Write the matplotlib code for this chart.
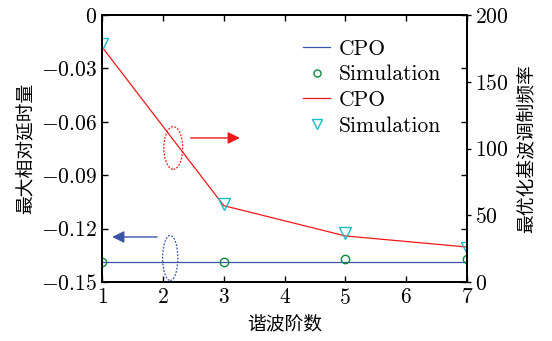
import numpy as np
import matplotlib.pyplot as plt
from matplotlib.patches import Ellipse

plt.rcParams['font.family'] = ['cmr10', 'Noto Sans CJK SC', 'DejaVu Sans']
plt.rcParams['mathtext.fontset'] = 'cm'
plt.rcParams['axes.unicode_minus'] = False

# data
harmonics = [1, 3, 5, 7]
delay_cpo = [-0.1388, -0.1388, -0.1388, -0.1388]
delay_sim = [-0.1388, -0.1385, -0.1372, -0.1372]
freq_cpo = [176, 57.2, 34.5, 26.2]
freq_sim = [178, 58.4, 36.7, 25.5]

x_ticks = [1, 2, 3, 4, 5, 6, 7]
left_ticks = [0, -0.03, -0.06, -0.09, -0.12, -0.15]
left_labels = ['$0$', '$-0.03$', '$-0.06$', '$-0.09$', '$-0.12$', '$-0.15$']
right_ticks = [0, 50, 100, 150, 200]
right_labels = ['$0$', '$50$', '$100$', '$150$', '$200$']

fig = plt.figure(figsize=(5.52, 3.41), dpi=100)
ax = fig.add_axes([0.185, 0.173, 0.661, 0.783])
ax2 = ax.twinx()

blue = '#3a55a8'
red = '#f01818'
green = '#108a40'
cyan = '#18bcc4'

l1, = ax.plot(harmonics, delay_cpo, color=blue, lw=0.9, label='CPO')
l2, = ax.plot(harmonics, delay_sim, 'o', mfc='none', mec=green, ms=6, mew=1.0, label='Simulation')
l3, = ax2.plot(harmonics, freq_cpo, color=red, lw=0.9, label='CPO')
l4, = ax2.plot(harmonics, freq_sim, 'v', mfc='none', mec=cyan, ms=8.5, mew=1.0, label='Simulation')

ax.set_xlim(1, 7)
ax.set_ylim(-0.15, 0)
ax2.set_ylim(0, 200)
ax.set_xticks(x_ticks)
ax.set_xticklabels(['$%d$' % v for v in x_ticks])
ax.set_yticks(left_ticks)
ax.set_yticklabels(left_labels)
ax2.set_yticks(right_ticks)
ax2.set_yticklabels(right_labels)

ax.tick_params(direction='in', length=4, width=1.0, labelsize=15.5, top=True, right=True, pad=4)
ax2.tick_params(direction='out', length=3, width=1.0, labelsize=15.5, pad=3)
for a in (ax, ax2):
    for s in a.spines.values():
        s.set_linewidth(1.4)

cjk = 'Noto Sans CJK SC'
ax.set_xlabel('谐波阶数', fontsize=13.5, family=cjk, labelpad=4)
ax.set_ylabel('最大相对延时量', fontsize=13.5, family=cjk, labelpad=4)
ax2.set_ylabel('最优化基波调制频率', fontsize=13.5, family=cjk, labelpad=5)

# dotted ellipses and arrows pointing at each axis
ax2.add_patch(Ellipse((2.17, 100.4), 0.31, 32, fill=False, ec=red, ls=(0, (1.5, 1.2)), lw=0.9))
ax2.annotate('', xy=(3.31, 107.9), xytext=(2.41, 107.9),
             arrowprops=dict(arrowstyle='-|>', color=red, lw=1.0, mutation_scale=18))
ax.add_patch(Ellipse((2.12, -0.1365), 0.25, 0.0253, fill=False, ec=blue, ls=(0, (1.5, 1.2)), lw=0.9))
ax.annotate('', xy=(1.12, -0.1247), xytext=(1.95, -0.1247),
            arrowprops=dict(arrowstyle='-|>', color=blue, lw=1.0, mutation_scale=18))

leg = ax2.legend([l1, l2, l3, l4], ['CPO', 'Simulation', 'CPO', 'Simulation'],
                 loc='upper left', bbox_to_anchor=(0.51, 0.965), frameon=False,
                 fontsize=15.5, handlelength=1.25, handletextpad=0.4,
                 labelspacing=0.28, borderaxespad=0.3, markerscale=0.85)

fig.savefig('out.png', dpi=100)
